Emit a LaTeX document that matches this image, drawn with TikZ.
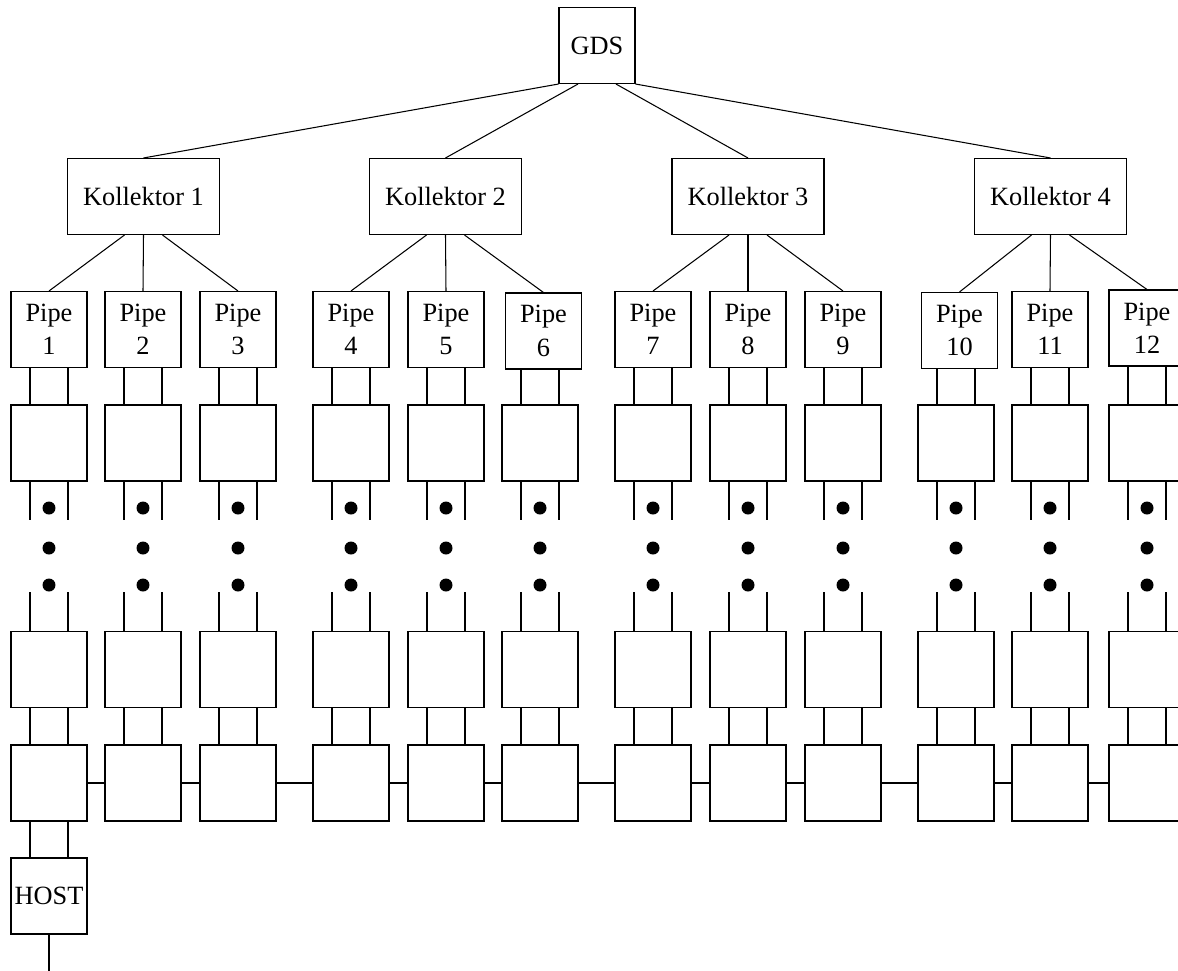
\documentclass[tikz,border=0pt]{standalone}
\usepackage{fontspec}
\setmainfont{Liberation Serif}
\usetikzlibrary{calc}

\begin{document}
\begin{tikzpicture}[x=0.02cm, y=-0.02cm, line width=0.6pt,
    box/.style={draw, fill=white, minimum width=1.52cm, minimum height=1.52cm,
        inner sep=0pt, align=center, font=\fontsize{15}{19}\selectfont},
    kbox/.style={box, minimum width=3.04cm}]
    \useasboundingbox (0,0) rectangle (1178,971);
    \clip (0,0) rectangle (1178,971);

    % Root
    \node[box] (gds) at (597,45.5) {GDS};

    % Collectors
    \foreach \k/\cx in {1/143.5, 2/445.5, 3/748, 4/1050.5}
        \node[kbox] (k\k) at (\cx,196.5) {Kollektor \k};

    % Columns: pipe, boxes, dots
    \foreach \i/\cx/\dx/\dy in {1/49/0/0, 2/143/0/0, 3/238/0/0, 4/351/0/0,
        5/446/0/0, 6/540/3.5/1.5, 7/653/0/0, 8/748/0/0, 9/843/0/0,
        10/956/3.5/1, 11/1050/0/0, 12/1147/0/-1.5}{
        \node[box] (p\i) at ({\cx+\dx},{329.5+\dy}) {Pipe\\\i};
        \node[box] (a\i) at (\cx,443) {};
        \node[box] (b\i) at (\cx,669.5) {};
        \node[box] (c\i) at (\cx,783) {};
        \foreach \s in {-0.38cm,0.38cm}{
            \draw ([xshift=\s]a\i.north) -- ([xshift=\s]a\i.north |- p\i.south);
            \draw ([xshift=\s]a\i.south) -- ++(0,38);
            \draw ([xshift=\s]b\i.north) -- ++(0,-39);
            \draw ([xshift=\s]c\i.north) -- ([xshift=\s]c\i.north |- b\i.south);
        }
        \foreach \y in {508,548,585}
            \fill (\cx,\y) circle (0.13cm);
    }

    % Tree lines
    \draw (gds.south west) -- (k1.north);
    \draw ([xshift=-0.38cm]gds.south) -- (k2.north);
    \draw ([xshift=0.38cm]gds.south) -- (k3.north);
    \draw (gds.south east) -- (k4.north);
    \foreach \k in {1,...,4}{
        \pgfmathtruncatemacro\pa{3*\k-2}
        \pgfmathtruncatemacro\pb{3*\k-1}
        \pgfmathtruncatemacro\pc{3*\k}
        \draw ([xshift=-0.38cm]k\k.south) -- (p\pa.north);
        \draw (k\k.south) -- (p\pb.north);
        \draw ([xshift=0.38cm]k\k.south) -- (p\pc.north);
    }

    % Chain
    \foreach \i in {1,...,11}{
        \pgfmathtruncatemacro\j{\i+1}
        \draw (c\i.east) -- (c\j.west);
    }

    % Host
    \node[box] (host) at (49,896) {HOST};
    \foreach \s in {-0.38cm,0.38cm}
        \draw ([xshift=\s]c1.south) -- ([xshift=\s]c1.south |- host.north);
    \draw (host.south) -- ++(0,45);
\end{tikzpicture}
\end{document}
